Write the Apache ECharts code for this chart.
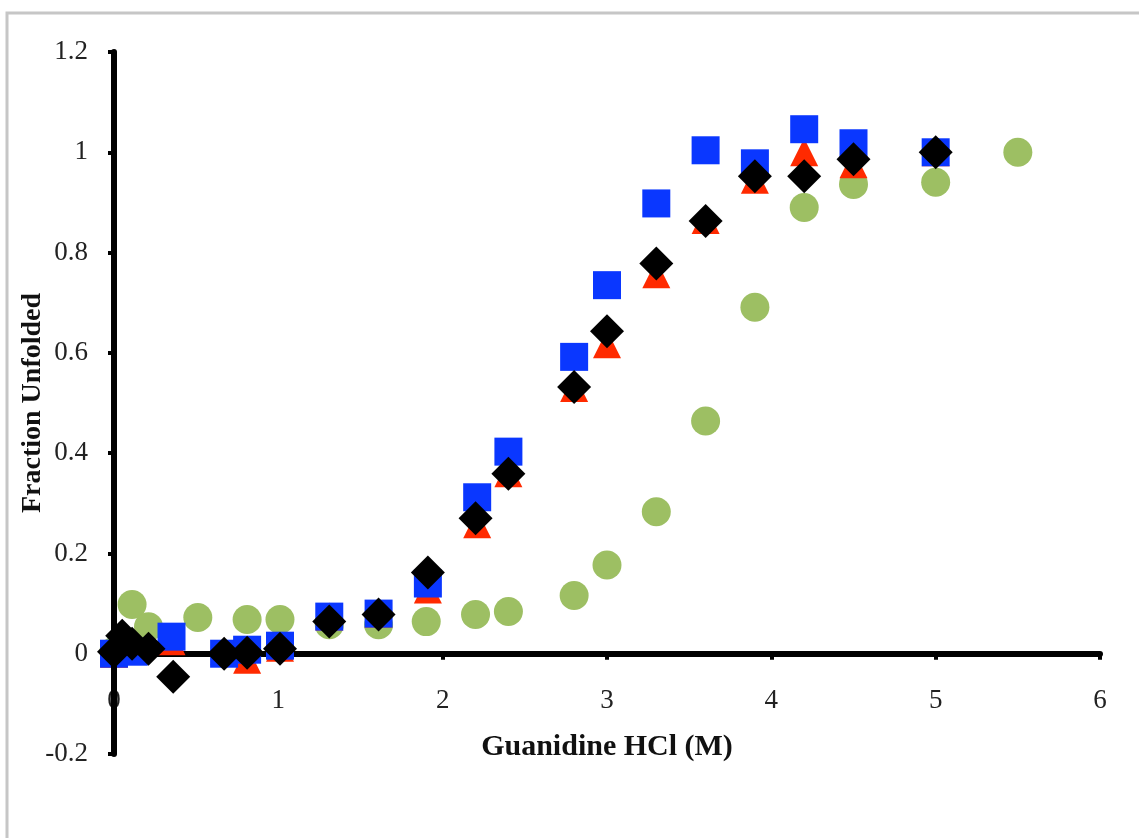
<!DOCTYPE html>
<html>
<head>
<meta charset="utf-8">
<script src="https://cdn.jsdelivr.net/npm/echarts@6/dist/echarts.min.js"></script>
<style>
  html, body { margin: 0; padding: 0; background: #fff; }
  #main { width: 1139px; height: 838px; }
</style>
</head>
<body>
<div id="main"></div>
<script>
// 数据：[浓度 M, 去折叠分数]
var redTri = [[0, 0.0], [0.05, 0.04], [0.12, 0.01], [0.35, 0.025], [0.67, 0.005], [0.81, -0.012], [1.01, 0.012],
  [1.31, 0.074], [1.61, 0.08], [1.91, 0.128], [2.21, 0.258], [2.4, 0.36], [2.8, 0.53], [3.0, 0.617],
  [3.3, 0.757], [3.6, 0.865], [3.9, 0.945], [4.2, 1.0], [4.5, 0.976], [5.0, 1.0]]
var blueSq = [[0, 0.0], [0.12, 0.004], [0.35, 0.034], [0.67, 0.0], [0.81, 0.008], [1.01, 0.016],
  [1.31, 0.074], [1.61, 0.08], [1.91, 0.14], [2.21, 0.312], [2.4, 0.403], [2.8, 0.592], [3.0, 0.735],
  [3.3, 0.898], [3.6, 1.004], [3.9, 0.978], [4.2, 1.046], [4.5, 1.018], [5.0, 1.0]]
var greenDot = [[0, 0.005], [0.11, 0.098], [0.21, 0.054], [0.51, 0.072], [0.81, 0.068], [1.01, 0.068],
  [1.31, 0.058], [1.61, 0.058], [1.9, 0.064], [2.2, 0.078], [2.4, 0.084], [2.8, 0.116], [3.0, 0.177],
  [3.3, 0.283], [3.6, 0.464], [3.9, 0.691], [4.2, 0.89], [4.5, 0.936], [5.0, 0.94], [5.5, 1.0]]
var blackDia = [[0, 0.004], [0.05, 0.036], [0.11, 0.02], [0.21, 0.01], [0.36, -0.046], [0.67, 0.0],
  [0.81, 0.002], [1.01, 0.01], [1.31, 0.064], [1.61, 0.078], [1.91, 0.162], [2.2, 0.27], [2.4, 0.359],
  [2.8, 0.532], [3.0, 0.643], [3.3, 0.778], [3.6, 0.863], [3.9, 0.952], [4.2, 0.952], [4.5, 0.986], [5.0, 1.0]]

var xMin = 0, xMax = 6, xStep = 1
var yMin = -0.2, yMax = 1.2, yStep = 0.2

var font = 'Liberation Serif'
var chart = echarts.init(document.getElementById('main'))

chart.setOption({
  animation: false,
  backgroundColor: '#fff',
  graphic: [{
    type: 'rect', z: -10,
    shape: { x: 7, y: 13, width: 1200, height: 900 },
    style: { fill: 'none', stroke: '#c6c6c6', lineWidth: 3 }
  }],
  grid: { left: 114, right: 39, top: 52, bottom: 84, outerBoundsMode: 'none' },
  xAxis: {
    type: 'value', min: xMin, max: xMax, interval: xStep, z: 1,
    name: 'Guanidine HCl (M)', nameLocation: 'middle', nameGap: -22, nameMoveOverlap: false,
    nameTextStyle: { fontFamily: font, fontWeight: 'bold', fontSize: 30, color: '#111' },
    axisLine: { onZero: true, lineStyle: { color: '#000', width: 6 } },
    axisTick: { inside: false, length: 6, lineStyle: { color: '#000', width: 4 } },
    axisLabel: { fontFamily: font, fontSize: 27, color: '#222', margin: -67 },
    splitLine: { show: false }
  },
  yAxis: {
    type: 'value', min: yMin, max: yMax, interval: yStep, z: 3,
    name: 'Fraction Unfolded', nameLocation: 'middle', nameGap: 67, nameMoveOverlap: false,
    nameTextStyle: { fontFamily: font, fontWeight: 'bold', fontSize: 28, color: '#111' },
    axisLine: { show: true, onZero: false, lineStyle: { color: '#000', width: 6 } },
    axisTick: { show: true, inside: false, length: 6, lineStyle: { color: '#000', width: 4 } },
    axisLabel: { fontFamily: font, fontSize: 27, color: '#222', margin: 26 },
    splitLine: { show: false }
  },
  series: [
    { type: 'scatter', name: 'green', data: greenDot, symbol: 'circle', symbolSize: 29,
      itemStyle: { color: '#9dbf63', opacity: 1 } },
    { type: 'scatter', name: 'red', data: redTri, symbol: 'triangle', symbolSize: 28,
      itemStyle: { color: '#ff2a00', opacity: 1 } },
    { type: 'scatter', name: 'blue', data: blueSq, symbol: 'rect', symbolSize: 28,
      itemStyle: { color: '#0a37ff', opacity: 1 } },
    { type: 'scatter', name: 'black', data: blackDia, symbol: 'diamond', symbolSize: 34,
      itemStyle: { color: '#000', opacity: 1 } }
  ]
})
</script>
</body>
</html>
